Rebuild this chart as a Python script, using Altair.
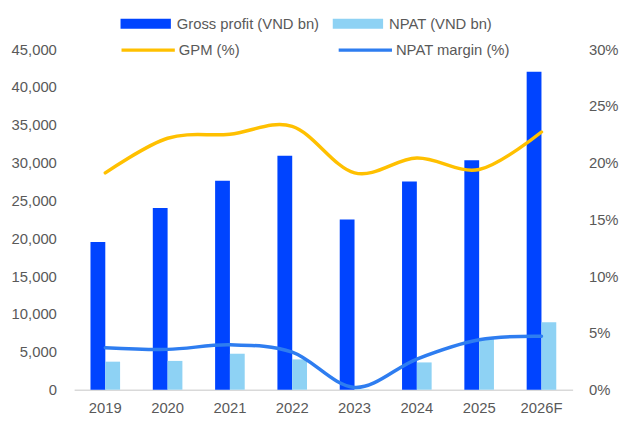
import altair as alt
import pandas as pd

years = ["2019", "2020", "2021", "2022", "2023", "2024", "2025", "2026F"]
gross_profit = [19500, 24000, 27600, 30900, 22500, 27500, 30300, 42000]
npat = [3700, 3800, 4750, 4000, 50, 3600, 6700, 8900]
gpm = [0.191, 0.2215, 0.225, 0.232, 0.191, 0.204, 0.194, 0.227]
npat_margin = [0.037, 0.0355, 0.0395, 0.033, 0.002, 0.027, 0.044, 0.047]

bar_series = ["Gross profit (VND bn)", "NPAT (VND bn)"]
line_series = ["GPM (%)", "NPAT margin (%)"]
bar_colors = ["#0044FF", "#8ED2F4"]
line_colors = ["#FFC000", "#2E7DF0"]

left_ticks = [0, 5000, 10000, 15000, 20000, 25000, 30000, 35000, 40000, 45000]
right_ticks = [0, 0.05, 0.1, 0.15, 0.2, 0.25, 0.3]

bar_df = pd.DataFrame(
    [{"year": y, "series": bar_series[0], "value": v} for y, v in zip(years, gross_profit)]
    + [{"year": y, "series": bar_series[1], "value": v} for y, v in zip(years, npat)]
)
line_df = pd.DataFrame(
    [{"year": y, "series": line_series[0], "value": v} for y, v in zip(years, gpm)]
    + [{"year": y, "series": line_series[1], "value": v} for y, v in zip(years, npat_margin)]
)

FONT = "Liberation Sans"
GREY = "#595959"

x_enc = alt.X(
    "year:N",
    sort=years,
    scale=alt.Scale(domain=years, paddingInner=0.525, paddingOuter=0.2625),
    axis=alt.Axis(
        title=None, labelAngle=0, ticks=False, domainColor="#D9D9D9",
        domainWidth=1.5, labelPadding=11, labelFontSize=15, labelColor=GREY,
        labelFont=FONT, grid=False,
    ),
)

bars = alt.Chart(bar_df).mark_bar().encode(
    x=x_enc,
    xOffset=alt.XOffset("series:N", sort=bar_series,
                        scale=alt.Scale(domain=bar_series, paddingInner=0, paddingOuter=0)),
    y=alt.Y(
        "value:Q",
        scale=alt.Scale(domain=[0, 45000], nice=False),
        axis=alt.Axis(
            title=None, values=left_ticks, format=",.0f", ticks=False, domain=False,
            grid=False, labelPadding=18, labelFontSize=15, labelColor=GREY, labelFont=FONT,
        ),
    ),
    color=alt.Color(
        "series:N",
        sort=bar_series,
        scale=alt.Scale(domain=bar_series, range=bar_colors),
        legend=alt.Legend(
            title=None, orient="none", legendX=47, legendY=-51.5, direction="horizontal",
            columns=2, symbolType="M-1,-0.2H1V0.2H-1Z", symbolSize=2601,
            symbolStrokeWidth=0, labelFontSize=15, labelColor=GREY, labelFont=FONT,
            labelOffset=6, columnPadding=13, padding=0, labelLimit=400,
        ),
    ),
)

lines = alt.Chart(line_df).mark_line(
    interpolate="cardinal", strokeWidth=3.5, strokeCap="round"
).encode(
    x=x_enc,
    y=alt.Y(
        "value:Q",
        scale=alt.Scale(domain=[0, 0.3], nice=False),
        axis=alt.Axis(
            title=None, orient="right", values=right_ticks, format=".0%", ticks=False,
            domain=False, grid=False, labelPadding=16, labelFontSize=15,
            labelColor=GREY, labelFont=FONT,
        ),
    ),
    color=alt.Color(
        "series:N",
        sort=line_series,
        scale=alt.Scale(domain=line_series, range=line_colors),
        legend=alt.Legend(
            title=None, orient="none", legendX=46, legendY=-28, direction="horizontal",
            columns=2, symbolType="stroke", symbolSize=2916, symbolStrokeWidth=3.5,
            labelFontSize=15, labelColor=GREY, labelFont=FONT,
            labelOffset=2, columnPadding=93, padding=0, labelLimit=400,
        ),
    ),
)

chart = (
    alt.layer(bars, lines)
    .resolve_scale(y="independent", color="independent")
    .properties(
        width=505,
        height=345,
        padding={"left": 67, "top": 39, "right": 48, "bottom": 23},
        autosize=alt.AutoSizeParams(type="none"),
    )
    .configure_view(stroke=None)
)

chart.save("out.html", embed_options={"renderer": "svg", "actions": False})
